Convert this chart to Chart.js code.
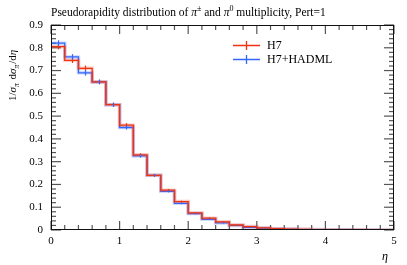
<!DOCTYPE html>
<html><head><meta charset="utf-8">
<script src="https://cdn.jsdelivr.net/npm/chart.js@4"></script>
<style>html,body{margin:0;padding:0;background:#fff}#wrap{width:407px;height:265px}</style>
</head><body><div id="wrap"><canvas id="c" width="407" height="265"></canvas></div>
<script>
const binEdges = [0,0.2,0.4,0.6,0.8,1.0,1.2,1.4,1.6,1.8,2.0,2.2,2.4,2.6,2.8,3.0,3.2,3.4,3.6,3.8,4.0,4.2,4.4,4.6,4.8,5.0];
const h7Values = [0.805,0.745,0.710,0.650,0.550,0.460,0.330,0.240,0.175,0.125,0.075,0.052,0.036,0.022,0.015,0.009,0.006,0.004,0.003,0.002,0.001,0.001,0.0008,0.0005,0.0003];
const hadmlValues = [0.820,0.760,0.690,0.650,0.550,0.450,0.325,0.240,0.170,0.117,0.072,0.047,0.031,0.020,0.012,0.008,0.005,0.003,0.002,0.0015,0.001,0.0008,0.0005,0.0004,0.0002];
const h7Errors = [0.012,0.012,0.012,0.010,0.009,0.009,0.007,0.006,0.005,0.004,0.003,0.003,0.002,0.002,0.001,0.001,0.001,0.001,0.001,0.001,0.001,0.001,0.001,0.001,0.001];
const hadmlErrors = [0.013,0.012,0.012,0.010,0.009,0.009,0.007,0.006,0.005,0.004,0.003,0.003,0.002,0.002,0.001,0.001,0.001,0.001,0.001,0.001,0.001,0.001,0.001,0.001,0.001];
const xTicks = [0,1,2,3,4,5];
const yTicks = [0,0.1,0.2,0.3,0.4,0.5,0.6,0.7,0.8,0.9];
const seriesNames = ['H7','H7+HADML'];

const RED = '#ee3311', BLUE = '#3366ff';
function stepData(vals){ const d = vals.map((v,i)=>({x:binEdges[i],y:v})); d.push({x:binEdges[binEdges.length-1],y:vals[vals.length-1]}); return d; }
const FONT = "'Liberation Serif', serif";

const frameTicks = {
  id:'frameTicks',
  beforeDatasetsDraw(chart){
    const ctx = chart.ctx, xs = chart.scales.x, ys = chart.scales.y, a = chart.chartArea;
    ctx.save();
    ctx.strokeStyle = '#555'; ctx.lineWidth = 1.2;
    for (let k=0; k<=25; k++){
      const px = xs.left + (xs.right - xs.left) * k / 25;
      const L = (k%5===0)?9:5;
      ctx.beginPath(); ctx.moveTo(px,a.bottom); ctx.lineTo(px,a.bottom-L); ctx.stroke();
      ctx.beginPath(); ctx.moveTo(px,a.top); ctx.lineTo(px,a.top+L); ctx.stroke();
    }
    for (let k=0; k<=45; k++){
      const py = ys.bottom - (ys.bottom - ys.top) * k / 45;
      const L = (k%5===0)?10:5;
      ctx.beginPath(); ctx.moveTo(a.left,py); ctx.lineTo(a.left+L,py); ctx.stroke();
      ctx.beginPath(); ctx.moveTo(a.right,py); ctx.lineTo(a.right-L,py); ctx.stroke();
    }
    ctx.restore();
  }
};

const decor = {
  id:'decor',
  afterDraw(chart){
    const ctx = chart.ctx, xs = chart.scales.x, ys = chart.scales.y, a = chart.chartArea;
    [[h7Values,h7Errors,RED],[hadmlValues,hadmlErrors,BLUE]].forEach(([v,e,col])=>{
      ctx.save(); ctx.strokeStyle = col; ctx.lineWidth = 1.2;
      v.forEach((val,i)=>{
        const xc = Math.round(xs.getPixelForValue((binEdges[i]+binEdges[i+1])/2))+0.5;
        const y1 = ys.getPixelForValue(val+e[i]), y2 = ys.getPixelForValue(Math.max(0,val-e[i]));
        ctx.beginPath(); ctx.moveTo(xc,y1); ctx.lineTo(xc,y2); ctx.stroke();
      });
      ctx.restore();
    });
    ctx.save();
    ctx.strokeStyle = '#111'; ctx.lineWidth = 1;
    ctx.strokeRect(a.left+0.5, a.top+0.5, a.right-a.left-1, a.bottom-a.top-1);
    ctx.restore();

    ctx.save();
    ctx.fillStyle = '#000'; ctx.textBaseline = 'alphabetic';
    const parts = [['Pseudorapidity distribution of ',0,11.5,''],['π',0,11.5,'italic '],['±',-5,8,''],[' and ',0,11.5,''],['π',0,11.5,'italic '],['0',-5,8,''],[' multiplicity, Pert=1',0,11.5,'']];
    let x = 51, y = 16;
    parts.forEach(p=>{ctx.font=p[3]+p[2]+'px '+FONT; ctx.fillText(p[0],x,y+p[1]); x+=ctx.measureText(p[0]).width;});
    ctx.restore();

    ctx.save();
    ctx.translate(16, 101); ctx.rotate(-Math.PI/2);
    ctx.fillStyle='#000'; ctx.textBaseline='alphabetic';
    const yl = [['1/',0,11,''],['σ',0,11,'italic '],['π',3,7.5,'italic '],[' d',0,11,''],['σ',0,11,'italic '],['π',3,7.5,'italic '],['/d',0,11,''],['η',0,11,'italic ']];
    let lx = 0;
    yl.forEach(p=>{ctx.font=p[3]+p[2]+'px '+FONT; ctx.fillText(p[0],lx,p[1]); lx+=ctx.measureText(p[0]).width + (p[2]<8?1:0);});
    ctx.restore();

    ctx.save(); ctx.fillStyle='#000'; ctx.font='italic 12px '+FONT; ctx.textAlign='right';
    ctx.fillText('η', a.right-6, 260); ctx.restore();

    ctx.save();
    [[RED,45],[BLUE,59]].forEach(([col,ly],i)=>{
      ctx.strokeStyle = col; ctx.lineWidth = 1.3;
      ctx.beginPath(); ctx.moveTo(233,ly+0.5); ctx.lineTo(260,ly+0.5);
      ctx.moveTo(246.5,ly-4); ctx.lineTo(246.5,ly+5); ctx.stroke();
      ctx.fillStyle='#000'; ctx.font='12px '+FONT; ctx.textBaseline='middle';
      ctx.fillText(seriesNames[i], 267, ly+1);
    });
    ctx.restore();
  }
};

function ds(vals,col,halo,label){
  return {label, data: stepData(vals), stepped:'before', borderColor: halo? col+'40' : col, borderWidth: halo?3.5:1.3, pointRadius:0, fill:false, tension:0};
}

new Chart(document.getElementById('c'), {
  type:'line',
  data:{datasets:[ds(h7Values,RED,true,'h7h'),ds(h7Values,RED,false,seriesNames[0]),ds(hadmlValues,BLUE,true,'hh'),ds(hadmlValues,BLUE,false,seriesNames[1])]},
  options:{
    responsive:false, animation:false, devicePixelRatio:1,
    layout:{padding:{top:25,right:13,left:0,bottom:0}},
    plugins:{legend:{display:false},title:{display:false},tooltip:{enabled:false}},
    scales:{
      x:{type:'linear',min:0,max:5,grid:{display:false,drawTicks:false},border:{display:false},
        afterBuildTicks(s){ s.ticks = xTicks.map(v=>({value:v})); },
        afterFit(s){ s.height = 35; },
        ticks:{padding:5,color:'#000',font:{family:FONT,size:11},maxRotation:0,callback:v=>String(v)}},
      y:{type:'linear',min:0,max:0.9,grid:{display:false,drawTicks:false},border:{display:false},
        afterBuildTicks(s){ s.ticks = yTicks.map(v=>({value:v})); },
        afterFit(s){ s.width = 51; },
        ticks:{padding:8,color:'#000',font:{family:FONT,size:11},callback:v=>String(Math.round(v*10)/10)}}
    }
  },
  plugins:[frameTicks, decor]
});
</script></body></html>
